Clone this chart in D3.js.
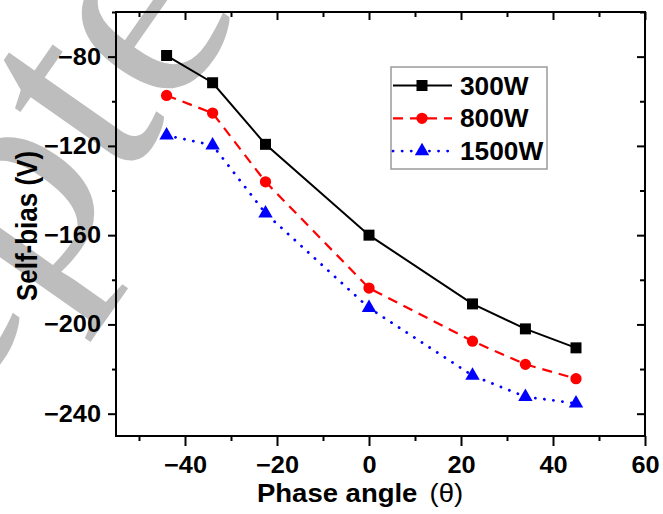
<!DOCTYPE html>
<html>
<head>
<meta charset="utf-8">
<script src="https://cdn.jsdelivr.net/npm/d3@7"></script>
<style>
  body { margin: 0; background: #fff; }
  text { font-family: Arial, "Liberation Sans", sans-serif; }
</style>
</head>
<body>
<div id="chart"></div>
<script>
// data
var phase = [-44, -34, -22.5, 0, 22.5, 34, 45];
var w300 = [-79.5, -91.7, -119.3, -160, -190.8, -202, -210.5];
var w800 = [-97.4, -105.3, -136.1, -183.7, -207.5, -217.9, -224.3];
var w1500 = [-115.3, -119.7, -150.2, -192.6, -222.9, -232.4, -235.4];
var seriesNames = ["300W", "800W", "1500W"];
var xMajor = [-40, -20, 0, 20, 40, 60];
var xMinor = [-50, -30, -10, 10, 30, 50];
var yMajor = [-80, -120, -160, -200, -240];
var yMinor = [-60, -100, -140, -180, -220];

var W = 663, H = 514;
var margin = { top: 12, right: 18, bottom: 78, left: 116 };

var svg = d3.select("#chart").append("svg")
  .attr("width", W)
  .attr("height", H);

// watermark behind the plot
svg.append("text")
  .attr("transform", "translate(-318,814) rotate(-55)")
  .style("font-family", "'Liberation Serif', 'Times New Roman', serif")
  .style("font-size", "300px")
  .attr("fill", "#bdbdbd")
  .text("Accepted");

var x = d3.scaleLinear().domain([-55, 60]).range([margin.left, W - margin.right]);
var y = d3.scaleLinear().domain([-250, -60]).range([H - margin.bottom, margin.top]);

var x0 = x.range()[0], x1 = x.range()[1];
var y0 = y.range()[0], y1 = y.range()[1];

// frame
svg.append("rect")
  .attr("x", x0).attr("y", y1)
  .attr("width", x1 - x0).attr("height", y0 - y1)
  .attr("fill", "none").attr("stroke", "#000").attr("stroke-width", 2);

function styleAxis(g) {
  g.select(".domain").remove();
  g.selectAll("line").attr("stroke", "#000").attr("stroke-width", 2);
}

// bottom axis (ticks out)
var gx = svg.append("g").attr("transform", "translate(0," + y0 + ")")
  .call(d3.axisBottom(x).tickValues(xMajor).tickSize(10).tickPadding(11));
gx.call(styleAxis);
gx.selectAll("text")
  .attr("transform", "scale(1.1,1)")
  .style("font-size", "23px").style("font-weight", "bold").attr("fill", "#000");
svg.append("g").attr("transform", "translate(0," + y0 + ")")
  .call(d3.axisBottom(x).tickValues(xMinor).tickSize(5).tickFormat(""))
  .call(styleAxis);

// top axis (ticks in)
svg.append("g").attr("transform", "translate(0," + y1 + ")")
  .call(d3.axisBottom(x).tickValues(xMajor).tickSize(8).tickFormat(""))
  .call(styleAxis);
svg.append("g").attr("transform", "translate(0," + y1 + ")")
  .call(d3.axisBottom(x).tickValues(xMinor).tickSize(5).tickFormat(""))
  .call(styleAxis);

// left axis (ticks out)
var gy = svg.append("g").attr("transform", "translate(" + x0 + ",0)")
  .call(d3.axisLeft(y).tickValues(yMajor).tickSize(8));
gy.call(styleAxis);
gy.selectAll("text")
  .attr("x", 0)
  .attr("transform", "translate(-15,0) scale(1.1,1)")
  .style("font-size", "23px").style("font-weight", "bold").attr("fill", "#000");
svg.append("g").attr("transform", "translate(" + x0 + ",0)")
  .call(d3.axisLeft(y).tickValues(yMinor).tickSize(4).tickFormat(""))
  .call(styleAxis);

// right axis (ticks in)
svg.append("g").attr("transform", "translate(" + x1 + ",0)")
  .call(d3.axisLeft(y).tickValues(yMajor).tickSize(8).tickFormat(""))
  .call(styleAxis);
svg.append("g").attr("transform", "translate(" + x1 + ",0)")
  .call(d3.axisLeft(y).tickValues(yMinor).tickSize(5).tickFormat(""))
  .call(styleAxis);

// axis titles
var xt = svg.append("text")
  .attr("transform", "translate(257,502) scale(1.1,1)")
  .style("font-size", "25px").style("font-weight", "bold");
xt.append("tspan").text("Phase angle");
xt.append("tspan").attr("dx", 11).style("font-weight", "normal").text("(θ)");

svg.append("text")
  .attr("transform", "translate(37,226) scale(1.1,1) rotate(-90)")
  .attr("text-anchor", "middle")
  .style("font-size", "26px").style("font-weight", "bold")
  .text("Self-bias (V)");

// series
var series = [
  { name: seriesNames[0], values: w300, color: "#000000", dash: null, width: 2, symbol: d3.symbolSquare, size: 121 },
  { name: seriesNames[1], values: w800, color: "#ff0000", dash: "10,7", width: 2.2, symbol: d3.symbolCircle, size: 100 },
  { name: seriesNames[2], values: w1500, color: "#0000ff", dash: "0.1,9", width: 2.8, symbol: d3.symbolTriangle, size: 90 }
];

var line = d3.line()
  .x(function (d) { return x(d[0]); })
  .y(function (d) { return y(d[1]); });

series.forEach(function (s) {
  var pts = phase.map(function (p, i) { return [p, s.values[i]]; });
  svg.append("path")
    .datum(pts)
    .attr("d", line)
    .attr("fill", "none")
    .attr("stroke", s.color)
    .attr("stroke-width", s.width)
    .attr("stroke-dasharray", s.dash)
    .attr("stroke-linecap", s.dash === "0.1,9" ? "round" : "butt");
  svg.selectAll(null)
    .data(pts)
    .enter()
    .append("path")
    .attr("transform", function (d) { return "translate(" + x(d[0]) + "," + y(d[1]) + ")"; })
    .attr("d", d3.symbol().type(s.symbol).size(s.size))
    .attr("fill", s.color);
});

// legend
var legend = svg.append("g");
legend.append("rect")
  .attr("x", 391).attr("y", 67)
  .attr("width", 156).attr("height", 102)
  .attr("fill", "#fff").attr("stroke", "#9a9a9a").attr("stroke-width", 1.5);

series.forEach(function (s, i) {
  var ly = 85.5 + i * 32.8;
  legend.append("line")
    .attr("x1", 393).attr("x2", 452)
    .attr("y1", ly).attr("y2", ly)
    .attr("stroke", s.color)
    .attr("stroke-width", s.width)
    .attr("stroke-dasharray", s.dash)
    .attr("stroke-linecap", s.dash === "0.1,9" ? "round" : "butt");
  legend.append("path")
    .attr("transform", "translate(422," + ly + ")")
    .attr("d", d3.symbol().type(s.symbol).size(s.size))
    .attr("fill", s.color);
  legend.append("text")
    .attr("transform", "translate(460," + ly + ") scale(1.05,1)")
    .attr("dy", "0.36em")
    .style("font-size", "25px").style("font-weight", "bold")
    .text(s.name);
});
</script>
</body>
</html>
